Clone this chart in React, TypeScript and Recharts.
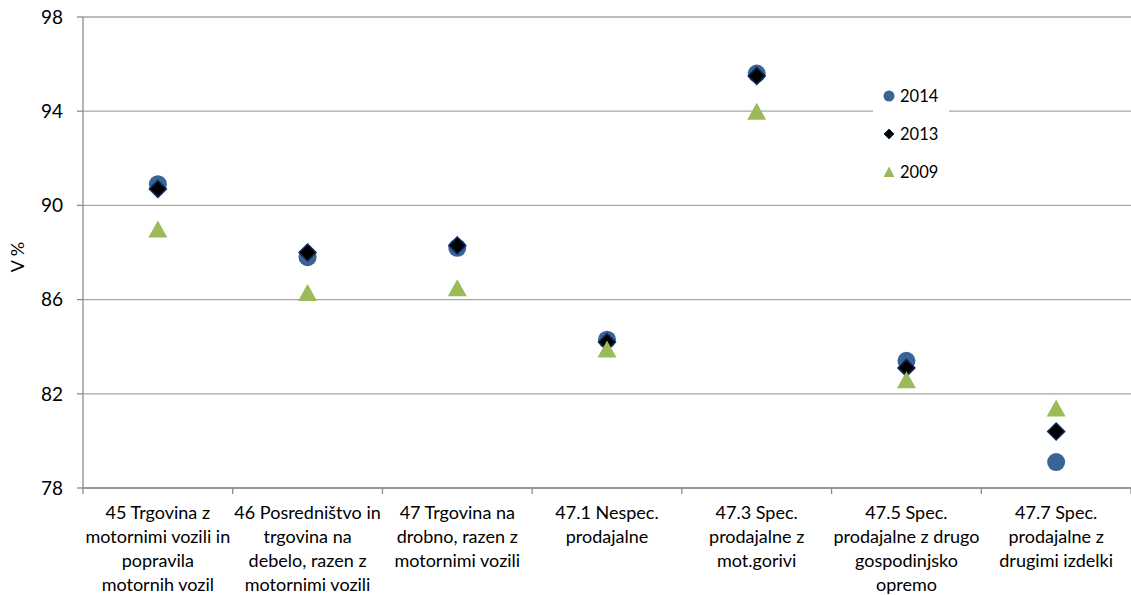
import { ScatterChart, Scatter, XAxis, YAxis, CartesianGrid, Legend, Label } from 'recharts'

const categories = [
  '45 Trgovina z\nmotornimi vozili in\npopravila\nmotornih vozil',
  '46 Posredništvo in\ntrgovina na\ndebelo, razen z\nmotornimi vozili',
  '47 Trgovina na\ndrobno, razen z\nmotornimi vozili',
  '47.1 Nespec.\nprodajalne',
  '47.3 Spec.\nprodajalne z\nmot.gorivi',
  '47.5 Spec.\nprodajalne z drugo\ngospodinjsko\nopremo',
  '47.7 Spec.\nprodajalne z\ndrugimi izdelki',
]

const values2014 = [90.9, 87.8, 88.2, 84.3, 95.6, 83.4, 79.1]
const values2013 = [90.7, 88.0, 88.3, 84.2, 95.5, 83.1, 80.4]
const values2009 = [89.0, 86.3, 86.5, 83.9, 94.0, 82.6, 81.4]

const yTicks = [78, 82, 86, 90, 94, 98]

const W = 1131
const H = 595
const Y_AXIS_W = 83
const FONT = 'Lato, "Liberation Sans", sans-serif'

const C_2014 = '#3a6496'
const C_2013 = '#000000'
const C_2009 = '#9bbb59'

const toPoints = (vals: number[]) => vals.map((v, i) => ({ x: i + 0.5, y: v }))

const halfBand = (W - Y_AXIS_W) / categories.length / 2

const CatTick = (props: any) => {
  const { x, y, payload } = props
  const label = categories[payload.value]
  if (!label) return null
  const cx = x + halfBand
  return (
    <text x={cx} y={y} textAnchor="middle" fill="#000" fontSize={18} fontFamily={FONT}>
      {label.split('\n').map((line, k) => (
        <tspan key={k} x={cx} dy={k === 0 ? '0.71em' : 24}>
          {line}
        </tspan>
      ))}
    </text>
  )
}

const circleShape = (p: any) => <circle cx={p.cx} cy={p.cy} r={9} fill={C_2014} />
const diamondShape = (p: any) => {
  const r = 8.5
  return (
    <path
      d={`M${p.cx},${p.cy - r}L${p.cx + r},${p.cy}L${p.cx},${p.cy + r}L${p.cx - r},${p.cy}Z`}
      fill={C_2013}
      stroke="#0f2a5c"
      strokeWidth={1.5}
    />
  )
}
const triangleShape = (p: any) => {
  const w = 9.5
  const h = 8.5
  return (
    <path
      d={`M${p.cx},${p.cy - h}L${p.cx + w},${p.cy + h}L${p.cx - w},${p.cy + h}Z`}
      fill={C_2009}
    />
  )
}

const legendItems = [
  { name: '2014', kind: 'circle' },
  { name: '2013', kind: 'diamond' },
  { name: '2009', kind: 'triangle' },
]

const LegendIcon = ({ kind }: { kind: string }) => {
  if (kind === 'circle') return <circle cx={6} cy={6} r={5.5} fill={C_2014} />
  if (kind === 'diamond')
    return <path d="M6,1L11,6L6,11L1,6Z" fill={C_2013} stroke="#0f2a5c" strokeWidth={1} />
  return <path d="M6,0.5L11.5,11L0.5,11Z" fill={C_2009} />
}

const LegendContent = () => (
  <div style={{ background: '#fff', width: 76, paddingTop: 4, paddingBottom: 8 }}>
    {legendItems.map((it) => (
      <div
        key={it.name}
        style={{ display: 'flex', alignItems: 'center', height: 38, fontFamily: FONT, fontSize: 16.5, color: '#000' }}
      >
        <svg width={12} height={12} style={{ marginLeft: 10, marginRight: 5 }}>
          <LegendIcon kind={it.kind} />
        </svg>
        <span>{it.name}</span>
      </div>
    ))}
  </div>
)

export default function App() {
  return (
    <div style={{ position: 'absolute', left: 0, top: 0, background: '#fff' }}>
      <ScatterChart width={W} height={H} margin={{ top: 17, right: 0, bottom: 0, left: 0 }}>
        <CartesianGrid vertical={false} stroke="#a6a6a6" strokeWidth={1.3} />
        <XAxis
          type="number"
          dataKey="x"
          domain={[0, categories.length]}
          ticks={categories.map((_, i) => i).concat(categories.length)}
          interval={0}
          height={107}
          stroke="#8c8c8c"
          strokeWidth={1.3}
          tickSize={6}
          tickMargin={12}
          tick={<CatTick />}
        />
        <YAxis
          type="number"
          dataKey="y"
          domain={[78, 98]}
          ticks={yTicks}
          interval={0}
          width={Y_AXIS_W}
          stroke="#8c8c8c"
          strokeWidth={1.3}
          tickSize={6}
          tickMargin={14}
          tick={{ fill: '#000', fontSize: 19, fontFamily: FONT }}
        >
          <Label
            content={() => (
              <text
                x={17}
                y={257}
                transform="rotate(-90, 17, 257)"
                textAnchor="middle"
                dominantBaseline="central"
                fontSize={18}
                fontFamily={FONT}
                fill="#000"
              >
                V %
              </text>
            )}
          />
        </YAxis>
        <Legend
          layout="vertical"
          verticalAlign="middle"
          align="center"
          wrapperStyle={{ left: 873, top: 73, width: 76 }}
          content={<LegendContent />}
        />
        <Scatter name="2014" data={toPoints(values2014)} shape={circleShape} isAnimationActive={false} />
        <Scatter name="2013" data={toPoints(values2013)} shape={diamondShape} isAnimationActive={false} />
        <Scatter name="2009" data={toPoints(values2009)} shape={triangleShape} isAnimationActive={false} />
      </ScatterChart>
    </div>
  )
}
